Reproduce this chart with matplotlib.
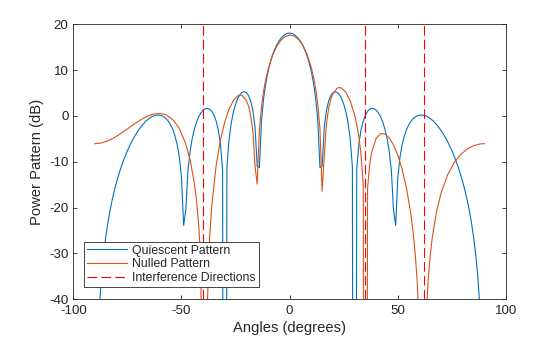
import numpy as np
import matplotlib
matplotlib.use('Agg')
import matplotlib.pyplot as plt

plt.rcParams['font.family'] = ['Liberation Sans', 'DejaVu Sans']
plt.rcParams['lines.scale_dashes'] = False
plt.rcParams['axes.unicode_minus'] = False

# quiescent pattern, one value per degree from -90 to 90 (dB)
angles = np.arange(-90, 91)
quiescent_db = [
    -300, -54.38, -42.32, -35.29, -30.29, -26.41, -23.25, -20.58, -18.27, -16.24,
    -14.43, -12.81, -11.33, -9.98, -8.75, -7.62, -6.58, -5.63, -4.75, -3.95,
    -3.22, -2.56, -1.96, -1.44, -0.98, -0.60, -0.28, -0.05, 0.11, 0.17,
    0.14, 0.00, -0.26, -0.66, -1.22, -1.99, -3.01, -4.38, -6.26, -8.97,
    -13.37, -23.90, -20.58, -11.89, -7.63, -4.84, -2.83, -1.32, -0.18, 0.66,
    1.23, 1.55, 1.63, 1.45, 0.98, 0.16, -1.11, -3.04, -6.08, -11.72,
    -300, -11.22, -5.09, -1.56, 0.84, 2.55, 3.78, 4.62, 5.11, 5.26,
    5.05, 4.41, 3.22, 1.18, -2.45, -11.07, -11.27, -0.97, 3.93, 7.21,
    9.66, 11.58, 13.14, 14.41, 15.44, 16.28, 16.94, 17.39, 17.79, 17.99,
    18.06,
    17.99, 17.79, 17.39, 16.94, 16.28, 15.44, 14.41, 13.14, 11.58, 9.66,
    7.21, 3.93, -0.97, -11.27, -11.07, -2.45, 1.18, 3.22, 4.41, 5.05,
    5.26, 5.11, 4.62, 3.78, 2.55, 0.84, -1.56, -5.09, -11.22, -300,
    -11.72, -6.08, -3.04, -1.11, 0.16, 0.98, 1.45, 1.63, 1.55, 1.23,
    0.66, -0.18, -1.32, -2.83, -4.84, -7.63, -11.89, -20.58, -23.90, -13.37,
    -8.97, -6.26, -4.38, -3.01, -1.99, -1.22, -0.66, -0.26, 0.00, 0.14,
    0.17, 0.11, -0.05, -0.28, -0.60, -0.98, -1.44, -1.96, -2.56, -3.22,
    -3.95, -4.75, -5.63, -6.58, -7.62, -8.75, -9.98, -11.33, -12.81, -14.43,
    -16.24, -18.27, -20.58, -23.25, -26.41, -30.29, -35.29, -42.32, -54.38, -300,
]

# nulled pattern (angle in degrees, level in dB)
null_angles = [
    -90, -87, -84, -81, -78, -75, -72, -69, -66, -63, -60, -57, -54, -51,
    -48, -46, -44, -43, -42, -41, -40, -39, -38, -37, -36, -34, -32, -30,
    -28, -26, -24, -23, -22, -20, -19, -18, -17, -16, -15, -14, -13, -12,
    -11, -10, -8, -6, -4, -2, 0, 2, 4, 6, 8, 10, 11, 12, 13, 14, 15, 16,
    17, 18, 19, 20, 22, 23, 24, 26, 28, 30, 31, 32, 33, 34, 35, 36, 37, 38,
    40, 42, 44, 46, 48, 50, 52, 54, 56, 57, 58, 59, 60, 61, 62, 63, 64, 65,
    66, 68, 70, 73, 76, 79, 82, 85, 88, 90,
]
nulled_db = [
    -6.07, -5.91, -5.45, -4.74, -3.85, -2.85, -1.84, -0.90, -0.12, 0.39,
    0.54, 0.20, -0.82, -2.76, -6.11, -9.61, -14.89, -18.72, -24.11, -32.57,
    -300, -45.54, -40.53, -26.76, -19.69, -10.87, -5.27, -1.33, 1.47, 3.35,
    4.37, 4.55, 4.47, 3.37, 2.13, 0.12, -3.32, -10.97, -14.89, -3.07,
    2.11, 5.52, 8.07, 10.09, 13.09, 15.15, 16.52, 17.33, 17.63, 17.44,
    16.73, 15.45, 13.48, 10.57, 8.58, 6.03, 2.58, -2.80, -16.43, -8.74,
    -1.74, 1.59, 3.58, 4.85, 6.05, 6.18, 6.06, 5.13, 3.26, 0.26,
    -1.85, -4.59, -8.45, -14.87, -300, -15.90, -10.53, -7.71, -4.89, -3.88,
    -3.94, -4.79, -6.34, -8.60, -11.67, -15.77, -21.37, -25.13, -29.90, -36.55,
    -47.9, -62.9, -300, -45.5, -35.93, -30.22, -26.25, -20.66, -16.79, -12.87,
    -10.24, -8.45, -7.26, -6.51, -6.13, -6.07,
]

interf_angles = [-40, 35, 62]

dark = '#262626'
fig = plt.figure(figsize=(5.6, 3.37), dpi=100)
ax = fig.add_axes([0.1309, 0.1122, 0.7727, 0.8160])

ax.plot(angles, quiescent_db, color='#0072BD', lw=0.8, label='Quiescent Pattern')
ax.plot(null_angles, nulled_db, color='#D95319', lw=0.8, label='Nulled Pattern')
for i, a in enumerate(interf_angles):
    ax.plot([a, a], [-40, 20], color='#FF0000', lw=0.8, dashes=(7, 3),
            label='Interference Directions' if i == 0 else None)

ax.set_xlim(-100, 100)
ax.set_ylim(-40, 20)
ax.set_xticks([-100, -50, 0, 50, 100])
ax.set_yticks([-40, -30, -20, -10, 0, 10, 20])
ax.tick_params(direction='in', top=True, right=True, length=3.2, width=0.6,
               labelsize=9.6, colors=dark)
ax.tick_params(axis='x', pad=4)
for s in ax.spines.values():
    s.set_color(dark)
    s.set_linewidth(0.6)

ax.set_xlabel('Angles (degrees)', fontsize=10.6, color=dark, labelpad=3)
ax.set_ylabel('Power Pattern (dB)', fontsize=10.6, color=dark, labelpad=4)

leg = ax.legend(loc='lower left', bbox_to_anchor=(0.0247, 0.0433), borderaxespad=0,
                fontsize=8.8, handlelength=3.3, handletextpad=0.4, labelspacing=0.15,
                borderpad=0.25, fancybox=False, framealpha=1)
leg.get_frame().set_edgecolor(dark)
leg.get_frame().set_linewidth(0.6)
for t in leg.get_texts():
    t.set_color(dark)

fig.savefig('out.png', dpi=100)
